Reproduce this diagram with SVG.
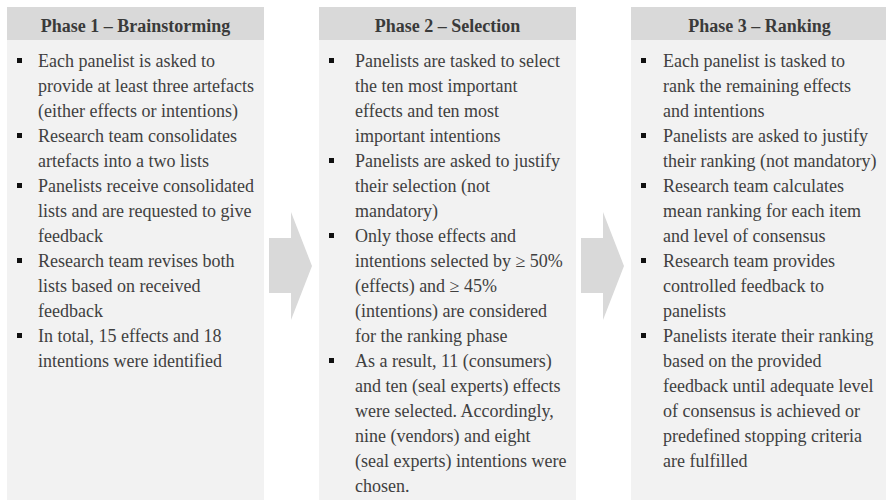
<svg xmlns="http://www.w3.org/2000/svg" width="886" height="500" viewBox="0 0 886 500">
<style>
.hd{fill:#d9d9d9}
.bd{fill:#f2f2f2}
.ttl{font-family:"Liberation Serif","Times New Roman",serif;font-size:18px;font-weight:bold;fill:#3a3a3a;text-anchor:middle}
.tx{font-family:"Liberation Serif","Times New Roman",serif;font-size:18px;fill:#404040}
.bl{fill:#111}
.ar{fill:#d9d9d9}
</style>
<rect width="886" height="500" fill="#ffffff"/>
<g id="phase1">
<rect class="bd" x="7" y="40" width="257" height="460"/>
<rect class="hd" x="7" y="7" width="257" height="33"/>
<text class="ttl" x="135.5" y="32">Phase 1 – Brainstorming</text>
<rect class="bl" x="17" y="58" width="5" height="5"/>
<rect class="bl" x="17" y="133" width="5" height="5"/>
<rect class="bl" x="17" y="183" width="5" height="5"/>
<rect class="bl" x="17" y="258" width="5" height="5"/>
<rect class="bl" x="17" y="333" width="5" height="5"/>
<text class="tx">
<tspan x="38" y="67">Each panelist is asked to</tspan>
<tspan x="38" y="92">provide at least three artefacts</tspan>
<tspan x="38" y="117">(either effects or intentions)</tspan>
<tspan x="38" y="142">Research team consolidates</tspan>
<tspan x="38" y="167">artefacts into a two lists</tspan>
<tspan x="38" y="192">Panelists receive consolidated</tspan>
<tspan x="38" y="217">lists and are requested to give</tspan>
<tspan x="38" y="242">feedback</tspan>
<tspan x="38" y="267">Research team revises both</tspan>
<tspan x="38" y="292">lists based on received</tspan>
<tspan x="38" y="317">feedback</tspan>
<tspan x="38" y="342">In total, 15 effects and 18</tspan>
<tspan x="38" y="367">intentions were identified</tspan>
</text>
</g>
<g id="phase2">
<rect class="bd" x="319" y="40" width="257" height="460"/>
<rect class="hd" x="319" y="7" width="257" height="33"/>
<text class="ttl" x="447.5" y="32">Phase 2 – Selection</text>
<rect class="bl" x="329" y="58" width="5" height="5"/>
<rect class="bl" x="329" y="158" width="5" height="5"/>
<rect class="bl" x="329" y="233" width="5" height="5"/>
<rect class="bl" x="329" y="358" width="5" height="5"/>
<text class="tx">
<tspan x="355" y="67">Panelists are tasked to select</tspan>
<tspan x="355" y="92">the ten most important</tspan>
<tspan x="355" y="117">effects and ten most</tspan>
<tspan x="355" y="142">important intentions</tspan>
<tspan x="355" y="167">Panelists are asked to justify</tspan>
<tspan x="355" y="192">their selection (not</tspan>
<tspan x="355" y="217">mandatory)</tspan>
<tspan x="355" y="242">Only those effects and</tspan>
<tspan x="355" y="267">intentions selected by ≥ 50%</tspan>
<tspan x="355" y="292">(effects) and ≥ 45%</tspan>
<tspan x="355" y="317">(intentions) are considered</tspan>
<tspan x="355" y="342">for the ranking phase</tspan>
<tspan x="355" y="367">As a result, 11 (consumers)</tspan>
<tspan x="355" y="392">and ten (seal experts) effects</tspan>
<tspan x="355" y="417">were selected. Accordingly,</tspan>
<tspan x="355" y="442">nine (vendors) and eight</tspan>
<tspan x="355" y="467">(seal experts) intentions were</tspan>
<tspan x="355" y="492">chosen.</tspan>
</text>
</g>
<g id="phase3">
<rect class="bd" x="631" y="40" width="257" height="460"/>
<rect class="hd" x="631" y="7" width="257" height="33"/>
<text class="ttl" x="759.5" y="32">Phase 3 – Ranking</text>
<rect class="bl" x="641" y="58" width="5" height="5"/>
<rect class="bl" x="641" y="133" width="5" height="5"/>
<rect class="bl" x="641" y="183" width="5" height="5"/>
<rect class="bl" x="641" y="258" width="5" height="5"/>
<rect class="bl" x="641" y="333" width="5" height="5"/>
<text class="tx">
<tspan x="663" y="67">Each panelist is tasked to</tspan>
<tspan x="663" y="92">rank the remaining effects</tspan>
<tspan x="663" y="117">and intentions</tspan>
<tspan x="663" y="142">Panelists are asked to justify</tspan>
<tspan x="663" y="167">their ranking (not mandatory)</tspan>
<tspan x="663" y="192">Research team calculates</tspan>
<tspan x="663" y="217">mean ranking for each item</tspan>
<tspan x="663" y="242">and level of consensus</tspan>
<tspan x="663" y="267">Research team provides</tspan>
<tspan x="663" y="292">controlled feedback to</tspan>
<tspan x="663" y="317">panelists</tspan>
<tspan x="663" y="342">Panelists iterate their ranking</tspan>
<tspan x="663" y="367">based on the provided</tspan>
<tspan x="663" y="392">feedback until adequate level</tspan>
<tspan x="663" y="417">of consensus is achieved or</tspan>
<tspan x="663" y="442">predefined stopping criteria</tspan>
<tspan x="663" y="467">are fulfilled</tspan>
</text>
</g>
<g id="connectors">
<polygon class="ar" points="269,238 291,238 291,212 312,266 291,320 291,293 269,293"/>
<polygon class="ar" points="581,238 603,238 603,212 624,266 603,320 603,293 581,293"/>
</g>
</svg>
